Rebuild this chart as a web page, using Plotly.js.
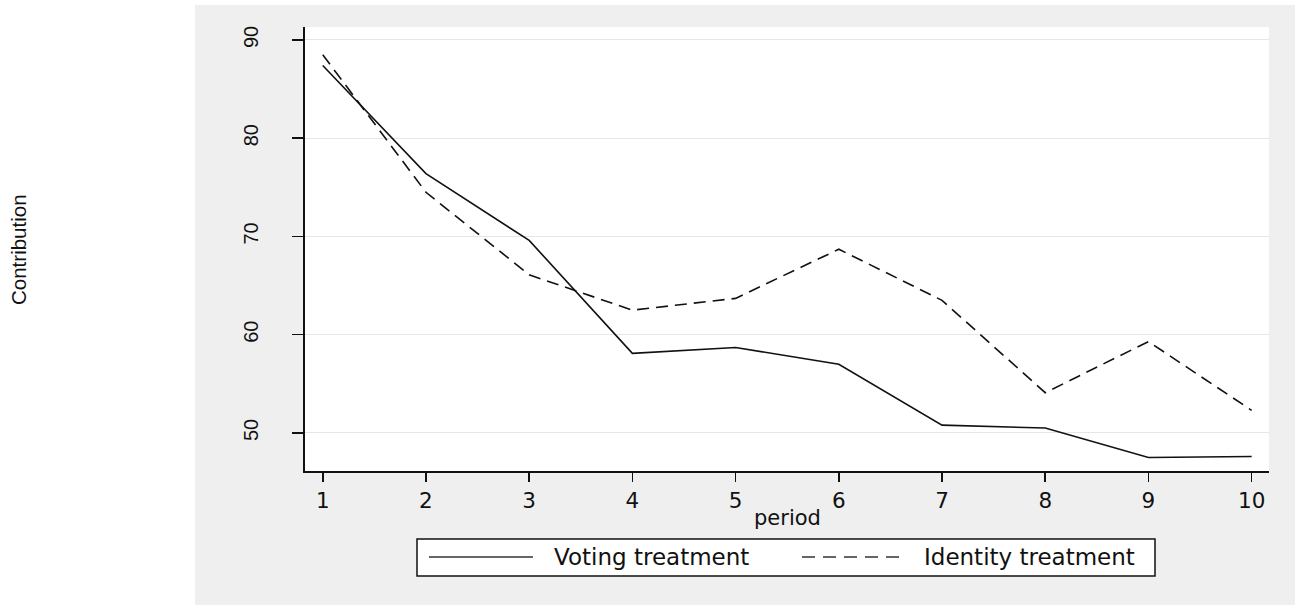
<!DOCTYPE html>
<html>
<head>
<meta charset="utf-8">
<script src="https://cdn.plot.ly/plotly-3.0.1.min.js"></script>
<style>html,body{margin:0;padding:0;background:#fff;}#chart{width:1295px;height:605px;}</style>
</head>
<body>
<div id="chart"></div>
<script>
// ---- data ----
const periods = [1, 2, 3, 4, 5, 6, 7, 8, 9, 10];
const votingTreatment = [87.4, 76.4, 69.6, 58.1, 58.7, 57.0, 50.8, 50.5, 47.5, 47.6];
const identityTreatment = [88.5, 74.5, 66.1, 62.5, 63.7, 68.7, 63.5, 54.1, 59.3, 52.3];
const seriesNames = ["Voting treatment", "Identity treatment"];
const yTicks = [50, 60, 70, 80, 90];
const xTitle = "period";
const yTitle = "Contribution";

// ---- layout helpers (pixel -> paper) ----
const W = 1295, H = 605;
const mL = 305, mR = 26, mT = 27, mB = 134;
const pw = W - mL - mR, ph = H - mT - mB;
const px = v => (v - mL) / pw;
const py = v => (H - mB - v) / ph;

const traces = [
  {x: periods, y: votingTreatment, name: seriesNames[0], type: "scatter", mode: "lines",
   line: {color: "#111", width: 1.6}},
  {x: periods, y: identityTreatment, name: seriesNames[1], type: "scatter", mode: "lines",
   line: {color: "#111", width: 1.6, dash: "12px,7px"}}
];

const legendY = 557;
const shapes = [
  // white strips outside the gray graph region
  {type: "rect", xref: "paper", yref: "paper", x0: px(0), x1: px(195), y0: py(H), y1: py(0),
   fillcolor: "#ffffff", line: {width: 0}, layer: "below"},
  {type: "rect", xref: "paper", yref: "paper", x0: px(0), x1: px(W), y0: py(5), y1: py(0),
   fillcolor: "#ffffff", line: {width: 0}, layer: "below"},
  // legend box
  {type: "rect", xref: "paper", yref: "paper", x0: px(417), x1: px(1155), y0: py(576), y1: py(539),
   fillcolor: "#ffffff", line: {color: "#111", width: 1.5}},
  {type: "line", xref: "paper", yref: "paper", x0: px(429), x1: px(533), y0: py(legendY), y1: py(legendY),
   line: {color: "#333", width: 1.6}},
  {type: "line", xref: "paper", yref: "paper", x0: px(802), x1: px(905), y0: py(legendY), y1: py(legendY),
   line: {color: "#333", width: 1.6, dash: "13px,8px"}}
];

const txtFont = {family: "DejaVu Sans", size: 23, color: "#111"};
const annotations = [
  {xref: "paper", yref: "paper", x: px(552), y: py(legendY), text: seriesNames[0], showarrow: false,
   xanchor: "left", yanchor: "middle", font: txtFont},
  {xref: "paper", yref: "paper", x: px(922), y: py(legendY), text: seriesNames[1], showarrow: false,
   xanchor: "left", yanchor: "middle", font: txtFont},
  {xref: "paper", yref: "paper", x: px(787), y: py(518), text: xTitle, showarrow: false,
   xanchor: "center", yanchor: "middle", font: {family: "DejaVu Sans", size: 21, color: "#111"}},
  {xref: "paper", yref: "paper", x: px(18), y: py(250), text: yTitle, showarrow: false, textangle: -90,
   xanchor: "center", yanchor: "middle", font: {family: "Liberation Sans", size: 20.5, color: "#111"}}
];

const layout = {
  width: W, height: H,
  margin: {l: mL, r: mR, t: mT, b: mB, pad: 0},
  paper_bgcolor: "#efefef",
  plot_bgcolor: "#ffffff",
  showlegend: false,
  xaxis: {
    range: [0.828, 10.168], tickvals: periods, ticktext: periods.map(String),
    showgrid: false, zeroline: false, showline: true, linecolor: "#111", linewidth: 2,
    ticks: "outside", ticklen: 9, tickwidth: 1.5, tickcolor: "#111",
    tickfont: {family: "DejaVu Sans", size: 21.5, color: "#111"}
  },
  yaxis: {
    range: [46.13, 91.32], tickvals: yTicks, ticktext: yTicks.map(String), tickangle: -90,
    showgrid: true, gridcolor: "#e6e6e6", gridwidth: 1, zeroline: false,
    showline: true, linecolor: "#111", linewidth: 2,
    ticks: "outside", ticklen: 11, tickwidth: 1.5, tickcolor: "#111",
    ticklabelstandoff: 26,
    tickfont: {family: "Liberation Sans", size: 20, color: "#111"}
  },
  shapes: shapes,
  annotations: annotations
};

Plotly.newPlot("chart", traces, layout, {displayModeBar: false, staticPlot: true});
</script>
</body>
</html>
